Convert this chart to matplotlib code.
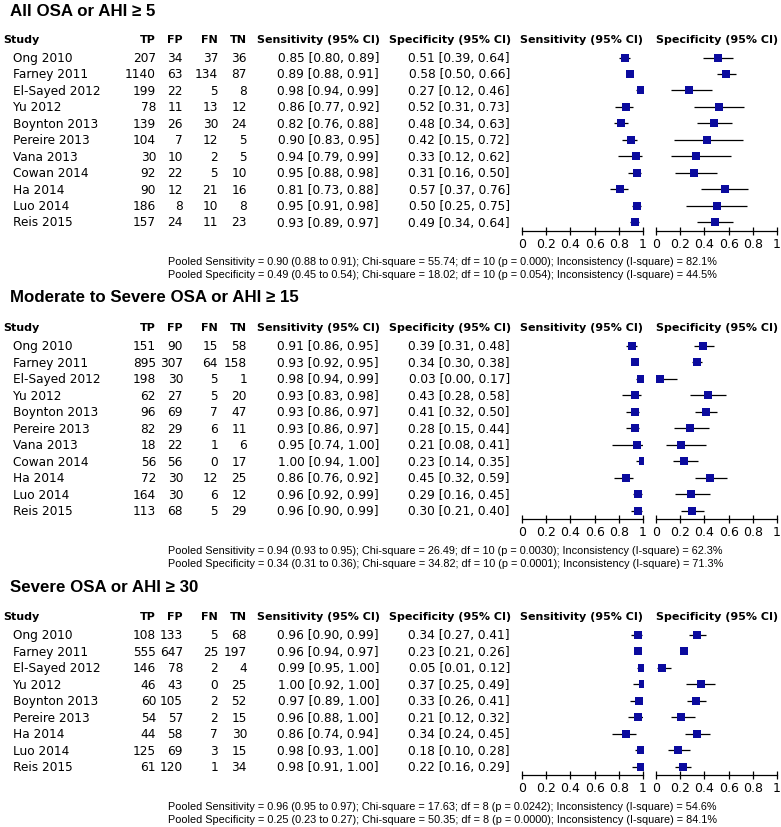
import matplotlib
matplotlib.use("Agg")
import matplotlib.pyplot as plt

W, H = 781, 828

# ---------------- data ----------------
titles = ["All OSA or AHI \u2265 5",
          "Moderate to Severe OSA or AHI \u2265 15",
          "Severe OSA or AHI \u2265 30"]

studies_all = ["Ong 2010", "Farney 2011", "El-Sayed 2012", "Yu 2012", "Boynton 2013",
               "Pereire 2013", "Vana 2013", "Cowan 2014", "Ha 2014", "Luo 2014", "Reis 2015"]
studies_sev = ["Ong 2010", "Farney 2011", "El-Sayed 2012", "Yu 2012", "Boynton 2013",
               "Pereire 2013", "Ha 2014", "Luo 2014", "Reis 2015"]

# Panel 1: AHI >= 5
tp_1 = [207, 1140, 199, 78, 139, 104, 30, 92, 90, 186, 157]
fp_1 = [34, 63, 22, 11, 26, 7, 10, 22, 12, 8, 24]
fn_1 = [37, 134, 5, 13, 30, 12, 2, 5, 21, 10, 11]
tn_1 = [36, 87, 8, 12, 24, 5, 5, 10, 16, 8, 23]
sens_1 = [0.85, 0.89, 0.98, 0.86, 0.82, 0.90, 0.94, 0.95, 0.81, 0.95, 0.93]
sens_lo_1 = [0.80, 0.88, 0.94, 0.77, 0.76, 0.83, 0.79, 0.88, 0.73, 0.91, 0.89]
sens_hi_1 = [0.89, 0.91, 0.99, 0.92, 0.88, 0.95, 0.99, 0.98, 0.88, 0.98, 0.97]
spec_1 = [0.51, 0.58, 0.27, 0.52, 0.48, 0.42, 0.33, 0.31, 0.57, 0.50, 0.49]
spec_lo_1 = [0.39, 0.50, 0.12, 0.31, 0.34, 0.15, 0.12, 0.16, 0.37, 0.25, 0.34]
spec_hi_1 = [0.64, 0.66, 0.46, 0.73, 0.63, 0.72, 0.62, 0.50, 0.76, 0.75, 0.64]
notes_1 = ["Pooled Sensitivity = 0.90 (0.88 to 0.91); Chi-square = 55.74; df = 10 (p = 0.000); Inconsistency (I-square) = 82.1%",
           "Pooled Specificity = 0.49 (0.45 to 0.54); Chi-square = 18.02; df = 10 (p = 0.054); Inconsistency (I-square) = 44.5%"]

# Panel 2: AHI >= 15
tp_2 = [151, 895, 198, 62, 96, 82, 18, 56, 72, 164, 113]
fp_2 = [90, 307, 30, 27, 69, 29, 22, 56, 30, 30, 68]
fn_2 = [15, 64, 5, 5, 7, 6, 1, 0, 12, 6, 5]
tn_2 = [58, 158, 1, 20, 47, 11, 6, 17, 25, 12, 29]
sens_2 = [0.91, 0.93, 0.98, 0.93, 0.93, 0.93, 0.95, 1.00, 0.86, 0.96, 0.96]
sens_lo_2 = [0.86, 0.92, 0.94, 0.83, 0.86, 0.86, 0.74, 0.94, 0.76, 0.92, 0.90]
sens_hi_2 = [0.95, 0.95, 0.99, 0.98, 0.97, 0.97, 1.00, 1.00, 0.92, 0.99, 0.99]
spec_2 = [0.39, 0.34, 0.03, 0.43, 0.41, 0.28, 0.21, 0.23, 0.45, 0.29, 0.30]
spec_lo_2 = [0.31, 0.30, 0.00, 0.28, 0.32, 0.15, 0.08, 0.14, 0.32, 0.16, 0.21]
spec_hi_2 = [0.48, 0.38, 0.17, 0.58, 0.50, 0.44, 0.41, 0.35, 0.59, 0.45, 0.40]
notes_2 = ["Pooled Sensitivity = 0.94 (0.93 to 0.95); Chi-square = 26.49; df = 10 (p = 0.0030); Inconsistency (I-square) = 62.3%",
           "Pooled Specificity = 0.34 (0.31 to 0.36); Chi-square = 34.82; df = 10 (p = 0.0001); Inconsistency (I-square) = 71.3%"]

# Panel 3: AHI >= 30
tp_3 = [108, 555, 146, 46, 60, 54, 44, 125, 61]
fp_3 = [133, 647, 78, 43, 105, 57, 58, 69, 120]
fn_3 = [5, 25, 2, 0, 2, 2, 7, 3, 1]
tn_3 = [68, 197, 4, 25, 52, 15, 30, 15, 34]
sens_3 = [0.96, 0.96, 0.99, 1.00, 0.97, 0.96, 0.86, 0.98, 0.98]
sens_lo_3 = [0.90, 0.94, 0.95, 0.92, 0.89, 0.88, 0.74, 0.93, 0.91]
sens_hi_3 = [0.99, 0.97, 1.00, 1.00, 1.00, 1.00, 0.94, 1.00, 1.00]
spec_3 = [0.34, 0.23, 0.05, 0.37, 0.33, 0.21, 0.34, 0.18, 0.22]
spec_lo_3 = [0.27, 0.21, 0.01, 0.25, 0.26, 0.12, 0.24, 0.10, 0.16]
spec_hi_3 = [0.41, 0.26, 0.12, 0.49, 0.41, 0.32, 0.45, 0.28, 0.29]
notes_3 = ["Pooled Sensitivity = 0.96 (0.95 to 0.97); Chi-square = 17.63; df = 8 (p = 0.0242); Inconsistency (I-square) = 54.6%",
           "Pooled Specificity = 0.25 (0.23 to 0.27); Chi-square = 50.35; df = 8 (p = 0.0000); Inconsistency (I-square) = 84.1%"]

tick_vals = [0, 0.2, 0.4, 0.6, 0.8, 1]
tick_labels = ["0", "0.2", "0.4", "0.6", "0.8", "1"]

panels = [
    dict(title=titles[0], studies=studies_all, tp=tp_1, fp=fp_1, fn=fn_1, tn=tn_1,
         sens=sens_1, slo=sens_lo_1, shi=sens_hi_1, spec=spec_1, plo=spec_lo_1, phi=spec_hi_1,
         notes=notes_1, title_y=11, header_y=40, row0=58.5),
    dict(title=titles[1], studies=studies_all, tp=tp_2, fp=fp_2, fn=fn_2, tn=tn_2,
         sens=sens_2, slo=sens_lo_2, shi=sens_hi_2, spec=spec_2, plo=spec_lo_2, phi=spec_hi_2,
         notes=notes_2, title_y=298, header_y=328, row0=347),
    dict(title=titles[2], studies=studies_sev, tp=tp_3, fp=fp_3, fn=fn_3, tn=tn_3,
         sens=sens_3, slo=sens_lo_3, shi=sens_hi_3, spec=spec_3, plo=spec_lo_3, phi=spec_hi_3,
         notes=notes_3, title_y=587, header_y=617, row0=636),
]

# ---------------- styling / layout ----------------
STEP = 16.45
TFONT = "DejaVu Sans"
BODY = 8.7
BLUE = "#0b0b9e"
fig = plt.figure(figsize=(W / 100, H / 100), dpi=100)


def fx(px):
    return px / W


def fy(py):
    return 1 - py / H


def txt(x, y, s, ha="left", size=BODY, weight="normal", family=TFONT, **kw):
    fig.text(fx(x), fy(y), s, ha=ha, va="center", fontsize=size, fontweight=weight,
             family=family, color="black", **kw)


SENS_X0, SENS_X1 = 522, 643
SPEC_X0, SPEC_X1 = 656, 777

for p in panels:
    n = len(p["studies"])
    # title
    txt(10, p["title_y"], p["title"], size=12.2, weight="bold", family="Liberation Sans")
    # header
    hy = p["header_y"]
    txt(3, hy, "Study", weight="bold", size=8)
    txt(156, hy, "TP", ha="right", weight="bold", size=8)
    txt(183, hy, "FP", ha="right", weight="bold", size=8)
    txt(218, hy, "FN", ha="right", weight="bold", size=8)
    txt(247, hy, "TN", ha="right", weight="bold", size=8)
    txt(380, hy, "Sensitivity (95% CI)", ha="right", weight="bold", size=8)
    txt(511, hy, "Specificity (95% CI)", ha="right", weight="bold", size=8)
    txt(643, hy, "Sensitivity (95% CI)", ha="right", weight="bold", size=8)
    txt(778, hy, "Specificity (95% CI)", ha="right", weight="bold", size=8)
    # rows
    for i in range(n):
        y = p["row0"] + i * STEP
        txt(13, y, p["studies"][i])
        txt(156, y, str(p["tp"][i]), ha="right")
        txt(183, y, str(p["fp"][i]), ha="right")
        txt(218, y, str(p["fn"][i]), ha="right")
        txt(247, y, str(p["tn"][i]), ha="right")
        txt(379, y, "%.2f [%.2f, %.2f]" % (p["sens"][i], p["slo"][i], p["shi"][i]), ha="right")
        txt(510, y, "%.2f [%.2f, %.2f]" % (p["spec"][i], p["plo"][i], p["phi"][i]), ha="right")

    # forest axes
    top_px = p["row0"] - 0.5 * STEP
    axis_px = p["row0"] + (n - 1) * STEP + 8.5
    ybot = (axis_px - p["row0"]) / STEP
    for (x0, x1, est, lo, hi) in [(SENS_X0, SENS_X1, p["sens"], p["slo"], p["shi"]),
                                  (SPEC_X0, SPEC_X1, p["spec"], p["plo"], p["phi"])]:
        ax = fig.add_axes([fx(x0), fy(axis_px), (x1 - x0) / W, (axis_px - top_px) / H])
        ax.set_xlim(0, 1)
        ax.set_ylim(ybot, -0.5)
        rows = list(range(n))
        ax.hlines(rows, lo, hi, color="black", lw=0.9, zorder=2)
        ax.plot(est, rows, "s", color=BLUE, markersize=5.6, markeredgewidth=0, zorder=3)
        for s in ["top", "left", "right"]:
            ax.spines[s].set_visible(False)
        ax.spines["bottom"].set_linewidth(0.9)
        ax.set_yticks([])
        ax.set_xticks(tick_vals)
        ax.set_xticklabels(tick_labels, fontsize=9, family=TFONT)
        ax.tick_params(axis="x", direction="inout", length=6, width=0.9, pad=1.5)
        ax.patch.set_alpha(0)

    # footnotes
    fy0 = axis_px + 31
    txt(168, fy0, p["notes"][0], size=7.8, family="Liberation Sans")
    txt(168, fy0 + 13, p["notes"][1], size=7.8, family="Liberation Sans")

fig.savefig("out.png", dpi=100)
